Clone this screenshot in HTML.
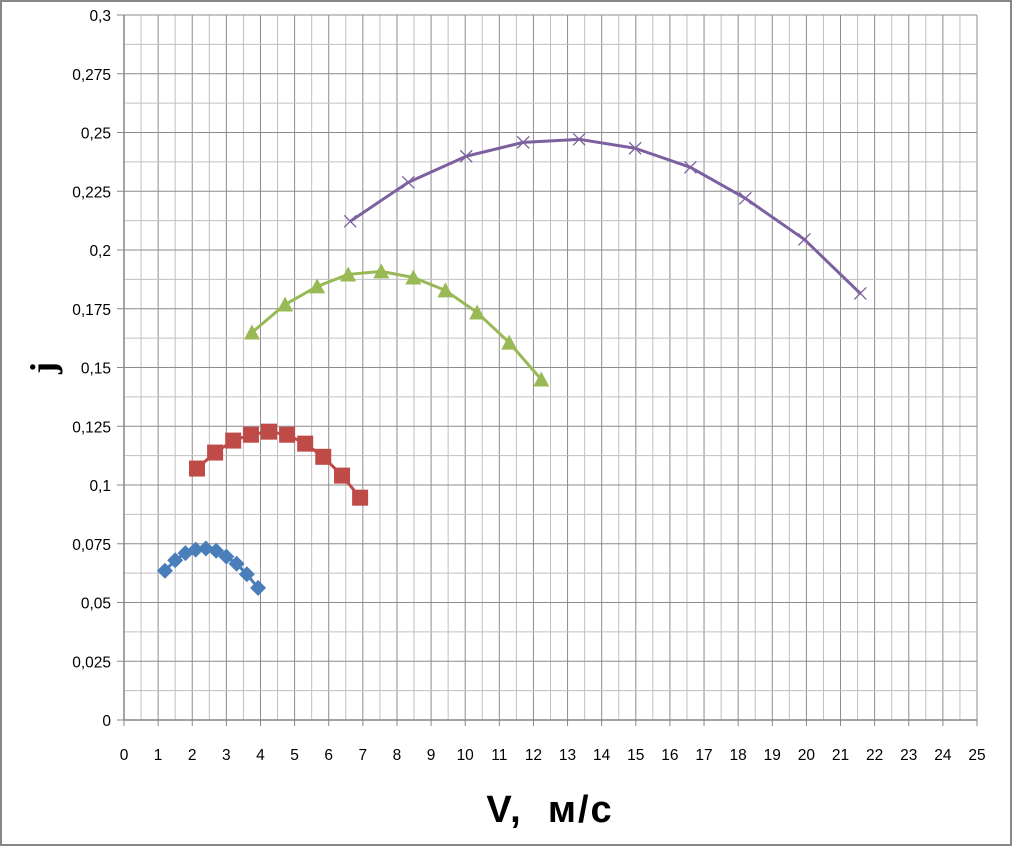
<!DOCTYPE html>
<html><head><meta charset="utf-8"><style>
html,body{margin:0;padding:0;background:#fff}
svg{display:block;font-family:"Liberation Sans","DejaVu Sans",sans-serif}
</style></head><body>
<svg id="chart" width="1012" height="846" viewBox="0 0 1012 846">
<rect x="1" y="1" width="1010" height="844" fill="#fff" stroke="#868686" stroke-width="2"/>
<g id="grid"></g><g id="axes"></g><g id="series"></g>
<text x="550" y="822" text-anchor="middle" font-size="38" font-weight="bold" letter-spacing="2" xml:space="preserve">V,  м/с</text>
<text transform="translate(55,368) rotate(-90)" text-anchor="middle" font-size="36" font-weight="bold" font-family="Liberation Serif, serif">j</text>
</svg>
<script>
const xTicks=[0,1,2,3,4,5,6,7,8,9,10,11,12,13,14,15,16,17,18,19,20,21,22,23,24,25];
const yTicks=[0,0.025,0.05,0.075,0.1,0.125,0.15,0.175,0.2,0.225,0.25,0.275,0.3];
const yTickLabels=["0","0,025","0,05","0,075","0,1","0,125","0,15","0,175","0,2","0,225","0,25","0,275","0,3"];
const s1x=[1.2,1.5,1.8,2.1,2.4,2.7,3.0,3.3,3.6,3.93];
const s1y=[0.0635,0.068,0.071,0.0725,0.073,0.072,0.0695,0.0665,0.062,0.0562];
const s2x=[2.14,2.67,3.2,3.72,4.25,4.78,5.31,5.84,6.39,6.92];
const s2y=[0.107,0.1138,0.1189,0.1214,0.1227,0.1214,0.1176,0.112,0.104,0.0946];
const s3x=[3.75,4.72,5.66,6.57,7.54,8.48,9.42,10.35,11.29,12.23];
const s3y=[0.1649,0.1768,0.1845,0.1896,0.1909,0.1883,0.1828,0.1734,0.1606,0.1449];
const s4x=[6.63,8.33,10.03,11.7,13.34,14.98,16.6,18.21,19.94,21.58];
const s4y=[0.2122,0.2288,0.2399,0.2458,0.2471,0.2433,0.2352,0.222,0.2045,0.1815];
const X0=124,X1=977,Y0=720,Y1=15;
const sx=v=>X0+(v/25)*(X1-X0), sy=v=>Y0-(v/0.3)*(Y0-Y1);
const NS="http://www.w3.org/2000/svg";
function mk(t,a,p){const e=document.createElementNS(NS,t);for(const k in a)e.setAttribute(k,a[k]);p.appendChild(e);return e;}
const grid=document.getElementById('grid'),axes=document.getElementById('axes'),ser=document.getElementById('series');
for(let i=0;i<=50;i++){const v=i*0.5;const l=mk('line',{x1:sx(v),x2:sx(v),y1:Y1,y2:Y0,stroke:i%2?'#c0c0c0':'#8c8c8c','stroke-width':1},grid);
}
for(let i=0;i<=24;i++){const v=i*0.0125;const l=mk('line',{x1:X0,x2:X1,y1:sy(v),y2:sy(v),stroke:i%2?'#c0c0c0':'#8c8c8c','stroke-width':1},grid);
}
let a=mk('line',{x1:X0,x2:X0,y1:Y1,y2:Y0,stroke:'#868686','stroke-width':1.5},axes);

a=mk('line',{x1:X0,x2:X1,y1:Y0,y2:Y0,stroke:'#868686','stroke-width':1.5},axes);

xTicks.forEach(v=>{const t=mk('text',{x:sx(v),y:Y0+40,'text-anchor':'middle','font-size':15.5,fill:'#000'},axes);t.textContent=v;

const k=mk('line',{x1:sx(v),x2:sx(v),y1:Y0,y2:Y0+6,stroke:'#868686'},axes);});
yTicks.forEach((v,i)=>{const t=mk('text',{x:X0-13,y:sy(v)+6,'text-anchor':'end','font-size':15.5,fill:'#000'},axes);t.textContent=yTickLabels[i];

const k=mk('line',{x1:X0-7,x2:X0,y1:sy(v),y2:sy(v),stroke:'#868686'},axes);});
function series(xs,ys,color,marker,name){
const g=mk('g',{},ser);
const pl=mk('polyline',{points:xs.map((x,i)=>sx(x)+','+sy(ys[i])).join(' '),fill:'none',stroke:color,'stroke-width':3,'stroke-linejoin':'round'},g);

xs.forEach((x,i)=>{const cx=sx(x),cy=sy(ys[i]);let m;
if(marker==='diamond')m=mk('polygon',{points:`${cx},${cy-8} ${cx+8},${cy} ${cx},${cy+8} ${cx-8},${cy}`,fill:color},g);
else if(marker==='square')m=mk('rect',{x:cx-8,y:cy-8,width:16,height:16,fill:color},g);
else if(marker==='triangle')m=mk('polygon',{points:`${cx},${cy-8} ${cx+8},${cy+7} ${cx-8},${cy+7}`,fill:color},g);
else m=mk('path',{d:`M${cx-6},${cy-6}L${cx+6},${cy+6}M${cx-6},${cy+6}L${cx+6},${cy-6}`,stroke:color,'stroke-width':1.3},g);
});}
series(s1x,s1y,'#4a7ebb','diamond','series-1');
series(s2x,s2y,'#be4b48','square','series-2');
series(s3x,s3y,'#98b954','triangle','series-3');
series(s4x,s4y,'#7d60a0','cross','series-4');
</script>
</body></html>
